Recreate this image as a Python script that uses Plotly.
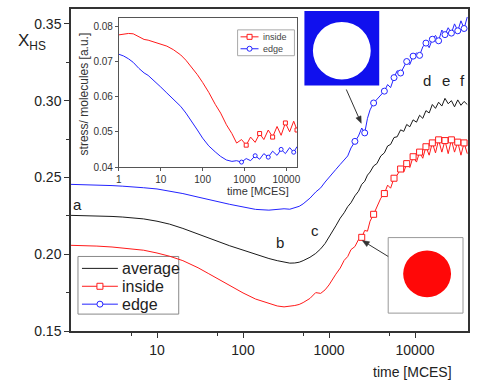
import math
import plotly.graph_objects as go

# ---------------- data ----------------
T = [1, 1.5, 2, 3, 4, 5, 7, 10, 14, 20, 30, 40, 50, 70, 100, 140, 200, 250, 300, 350,
     400, 450, 500, 600, 700, 800, 900, 1000, 1100, 1200, 1350, 1500, 1650, 1800, 2000, 2200,
     2400, 2600, 2800, 3000, 3300, 3600, 4000, 4400, 4800, 5200, 5700, 6200, 6800, 7400,
     8000, 8700, 9500, 10400, 11300, 12300, 13400, 14600, 15900, 17300, 18800, 20500,
     22300, 24300, 26500, 28800, 31400, 34200, 37200, 40500]

EDGE = [0.2455, 0.2453, 0.2451, 0.2447, 0.2443, 0.2440, 0.2433, 0.2425, 0.2412, 0.2395,
        0.2372, 0.2355, 0.2342, 0.2325, 0.2308, 0.2292, 0.2287, 0.2293, 0.2296, 0.2293,
        0.2302, 0.2312, 0.2328, 0.2365, 0.2405, 0.2432, 0.2470, 0.2498, 0.2530, 0.2552,
        0.2585, 0.2618, 0.2640, 0.2692, 0.2735, 0.2770, 0.2822, 0.2790, 0.2885, 0.2940,
        0.2985, 0.3010, 0.3040, 0.3062, 0.3105, 0.3085, 0.3150, 0.3195, 0.3180, 0.3225,
        0.3255, 0.3235, 0.3290, 0.3310, 0.3295, 0.3350, 0.3375, 0.3345, 0.3400, 0.3425,
        0.3390, 0.3460, 0.3430, 0.3475, 0.3440, 0.3500, 0.3455, 0.3520, 0.3470, 0.3545]

AVERAGE = [0.2253, 0.2252, 0.2250, 0.2246, 0.2242, 0.2238, 0.2230, 0.2215, 0.2196, 0.2168,
           0.2130, 0.2103, 0.2082, 0.2055, 0.2027, 0.1998, 0.1972, 0.1958, 0.1948, 0.1942,
           0.1943, 0.1948, 0.1958, 0.1980, 0.2005, 0.2035, 0.2070, 0.2110, 0.2150, 0.2185,
           0.2235, 0.2270, 0.2310, 0.2335, 0.2380, 0.2410, 0.2455, 0.2475, 0.2515, 0.2535,
           0.2575, 0.2590, 0.2640, 0.2660, 0.2705, 0.2715, 0.2760, 0.2765, 0.2810, 0.2800,
           0.2845, 0.2830, 0.2875, 0.2860, 0.2905, 0.2885, 0.2935, 0.2920, 0.2975, 0.2950,
           0.2990, 0.2965, 0.3015, 0.2980, 0.3000, 0.2960, 0.3005, 0.2970, 0.2995, 0.2975]

INSIDE = [0.2058, 0.2056, 0.2053, 0.2047, 0.2041, 0.2036, 0.2026, 0.2008, 0.1987, 0.1958,
          0.1912, 0.1873, 0.1843, 0.1795, 0.1748, 0.1708, 0.1678, 0.1663, 0.1657, 0.1660,
          0.1666, 0.1673, 0.1685, 0.1712, 0.1750, 0.1745, 0.1768, 0.1800, 0.1840, 0.1870,
          0.1910, 0.1960, 0.1985, 0.2030, 0.2050, 0.2095, 0.2110, 0.2155, 0.2150, 0.2215,
          0.2260, 0.2305, 0.2365, 0.2395, 0.2450, 0.2430, 0.2495, 0.2515, 0.2555, 0.2535,
          0.2590, 0.2565, 0.2635, 0.2600, 0.2665, 0.2625, 0.2700, 0.2645, 0.2725, 0.2660,
          0.2745, 0.2665, 0.2740, 0.2655, 0.2745, 0.2665, 0.2730, 0.2645, 0.2725, 0.2655]

# inset: stress per molecule
TI = [1, 1.3, 1.7, 2.2, 3, 4, 5, 7, 10, 14, 20, 30, 40, 55, 75, 100, 140, 200, 270, 370,
      500, 650, 850, 1100, 1400, 1800, 2300, 2900, 3700, 4700, 6000, 7500, 9500, 12000,
      15000, 18000]
STRESS_INSIDE = [0.0775, 0.0777, 0.0779, 0.0778, 0.0770, 0.0762, 0.0760, 0.0754, 0.0748,
                 0.0743, 0.0733, 0.0718, 0.0703, 0.0683, 0.0662, 0.0640, 0.0612, 0.0578,
                 0.0553, 0.0520, 0.0495, 0.0468, 0.0478, 0.0462, 0.0485, 0.0470, 0.0495,
                 0.0478, 0.0505, 0.0485, 0.0515, 0.0490, 0.0525, 0.0500, 0.0530, 0.0505]
STRESS_EDGE = [0.0720, 0.0715, 0.0707, 0.0697, 0.0680, 0.0667, 0.0660, 0.0645, 0.0627,
               0.0610, 0.0592, 0.0572, 0.0553, 0.0530, 0.0505, 0.0482, 0.0460, 0.0443,
               0.0430, 0.0420, 0.0416, 0.0418, 0.0414, 0.0424, 0.0418, 0.0432, 0.0422,
               0.0438, 0.0428, 0.0445, 0.0433, 0.0450, 0.0438, 0.0455, 0.0442, 0.0458]

MAIN_XTICKS = [10, 100, 1000, 10000]
MAIN_XMINOR = [5, 50, 500, 5000]
MAIN_YTICKS = [0.15, 0.20, 0.25, 0.30, 0.35]
INSET_XTICKS = [1, 10, 100, 1000, 10000]
INSET_YTICKS = [0.04, 0.05, 0.06, 0.07, 0.08]

MAIN_LEGEND = ["average", "inside", "edge"]
INSET_LEGEND = ["inside", "edge"]

# indices where the hollow symbols sit
EDGE_MARK = [34, 37, 40, 43, 46, 48, 50, 52, 54, 56, 58, 60, 62, 64, 66, 68]
INSIDE_MARK = [36, 40, 43, 46, 48, 50, 52, 54, 56, 58, 60, 62, 64, 66, 68]
IN_EDGE_MARK = [22, 25, 28, 31, 34]
IN_INSIDE_MARK = [23, 26, 29, 32, 35]

RED = "#ff1a1a"
BLUE = "#2323ff"
BLACK = "#1a1a1a"
FONT = "Liberation Sans, Arial, sans-serif"

# ---------------- geometry helpers (pixel -> paper) ----------------
W, H = 478, 388
L, R, TOP, BOT = 71, 469, 7, 331


def px(x):
    return (x - L) / (R - L)


def py(y):
    return (BOT - y) / (BOT - TOP)


fig = go.Figure()

# main curves
fig.add_trace(go.Scatter(x=T, y=EDGE, mode="lines", line=dict(color=BLUE, width=1),
                         showlegend=False, xaxis="x", yaxis="y"))
fig.add_trace(go.Scatter(x=T, y=AVERAGE, mode="lines", line=dict(color=BLACK, width=1),
                         showlegend=False, xaxis="x", yaxis="y"))
fig.add_trace(go.Scatter(x=T, y=INSIDE, mode="lines", line=dict(color=RED, width=1),
                         showlegend=False, xaxis="x", yaxis="y"))
fig.add_trace(go.Scatter(x=[T[i] for i in EDGE_MARK], y=[EDGE[i] for i in EDGE_MARK],
                         mode="markers", showlegend=False,
                         marker=dict(symbol="circle", size=6, color="white",
                                     line=dict(color=BLUE, width=1))))
fig.add_trace(go.Scatter(x=[T[i] for i in INSIDE_MARK], y=[INSIDE[i] for i in INSIDE_MARK],
                         mode="markers", showlegend=False,
                         marker=dict(symbol="square", size=6, color="white",
                                     line=dict(color=RED, width=1))))

# inset curves
fig.add_trace(go.Scatter(x=TI, y=STRESS_INSIDE, mode="lines", line=dict(color=RED, width=1),
                         showlegend=False, xaxis="x2", yaxis="y2"))
fig.add_trace(go.Scatter(x=TI, y=STRESS_EDGE, mode="lines", line=dict(color=BLUE, width=1),
                         showlegend=False, xaxis="x2", yaxis="y2"))
fig.add_trace(go.Scatter(x=[TI[i] for i in IN_INSIDE_MARK],
                         y=[STRESS_INSIDE[i] for i in IN_INSIDE_MARK],
                         mode="markers", showlegend=False, xaxis="x2", yaxis="y2",
                         marker=dict(symbol="square", size=4, color="white",
                                     line=dict(color=RED, width=1))))
fig.add_trace(go.Scatter(x=[TI[i] for i in IN_EDGE_MARK],
                         y=[STRESS_EDGE[i] for i in IN_EDGE_MARK],
                         mode="markers", showlegend=False, xaxis="x2", yaxis="y2",
                         marker=dict(symbol="circle", size=4, color="white",
                                     line=dict(color=BLUE, width=1))))


# ---- legend samples, drawn on an invisible overlay axis in paper-like units ----
def legend_sample(x0, x1, y, color, symbol, msize):
    fig.add_trace(go.Scatter(x=[px(x0), px(x1)], y=[py(y), py(y)], mode="lines",
                             line=dict(color=color, width=1), showlegend=False,
                             xaxis="x3", yaxis="y3", hoverinfo="skip", cliponaxis=False))
    if symbol:
        fig.add_trace(go.Scatter(x=[px((x0 + x1) / 2)], y=[py(y)], mode="markers",
                                 showlegend=False, xaxis="x3", yaxis="y3", hoverinfo="skip",
                                 cliponaxis=False,
                                 marker=dict(symbol=symbol, size=msize, color="white",
                                             line=dict(color=color, width=1))))


main_rows = [268, 286, 304]
main_styles = [(BLACK, None), (RED, "square"), (BLUE, "circle")]
for yrow, (c, s) in zip(main_rows, main_styles):
    legend_sample(82, 118, yrow, c, s, 6)

inset_rows = [35, 47]
inset_styles = [(RED, "square"), (BLUE, "circle")]
for yrow, (c, s) in zip(inset_rows, inset_styles):
    legend_sample(241, 259, yrow, c, s, 5)

axis_font = dict(family=FONT, size=14, color="#222")
inset_font = dict(family=FONT, size=10, color="#333")

fig.update_layout(
    width=W, height=H,
    margin=dict(l=L, r=W - R, t=TOP, b=H - BOT),
    paper_bgcolor="white", plot_bgcolor="rgba(0,0,0,0)",
    font=axis_font, showlegend=False,
    xaxis=dict(type="log", range=[0, 4.616], domain=[0, 1], anchor="y",
               tickvals=MAIN_XTICKS, ticktext=[str(v) for v in MAIN_XTICKS],
               showgrid=False, zeroline=False, showline=True, linecolor="#333",
               linewidth=1.5, mirror=True, ticks="outside", ticklen=5, tickwidth=1.2,
               tickcolor="#333", tickfont=axis_font,
               minor=dict(tickvals=MAIN_XMINOR, ticks="outside", ticklen=3,
                          tickcolor="#333", tickwidth=1)),
    yaxis=dict(range=[0.15, 0.3597], domain=[0, 1], anchor="x",
               tickvals=MAIN_YTICKS, ticktext=["%.2f" % v for v in MAIN_YTICKS],
               showgrid=False, zeroline=False, showline=True, linecolor="#333",
               linewidth=1.5, mirror=True, ticks="outside", ticklen=5, tickwidth=1.2,
               tickcolor="#333", tickfont=axis_font,
               minor=dict(dtick=0.025, tick0=0.15, ticks="outside", ticklen=3,
                          tickcolor="#333", tickwidth=1)),
    xaxis2=dict(type="log", range=[0, 4.265], domain=[px(119), px(298)], anchor="y2",
                tickvals=INSET_XTICKS, ticktext=[str(v) for v in INSET_XTICKS],
                showgrid=False, zeroline=False, showline=True, linecolor="#555",
                linewidth=1, mirror=True, ticks="outside", ticklen=3, tickcolor="#555",
                tickfont=inset_font),
    yaxis2=dict(range=[0.04, 0.0823], domain=[py(166), py(16)], anchor="x2",
                tickvals=INSET_YTICKS, ticktext=["%.2f" % v for v in INSET_YTICKS],
                showgrid=False, zeroline=False, showline=True, linecolor="#555",
                linewidth=1, mirror=True, ticks="outside", ticklen=3, tickcolor="#555",
                tickfont=inset_font),
    xaxis3=dict(overlaying="x", range=[0, 1], visible=False, anchor="y3", fixedrange=True),
    yaxis3=dict(overlaying="y", range=[0, 1], visible=False, anchor="x3", fixedrange=True),
)


def arrow_shapes(tail, head, color="#333"):
    (tx, ty), (hx, hy) = tail, head
    d = math.hypot(hx - tx, hy - ty)
    ux, uy = (hx - tx) / d, (hy - ty) / d
    nx, ny = -uy, ux
    bx, by = hx - 7 * ux, hy - 7 * uy
    p1 = (bx + 2.8 * nx, by + 2.8 * ny)
    p2 = (bx - 2.8 * nx, by - 2.8 * ny)
    path = "M %f,%f L %f,%f L %f,%f Z" % (px(hx), py(hy), px(p1[0]), py(p1[1]),
                                           px(p2[0]), py(p2[1]))
    return [
        dict(type="line", xref="paper", yref="paper", x0=px(tx), y0=py(ty), x1=px(bx),
             y1=py(by), line=dict(color=color, width=1), layer="above"),
        dict(type="path", xref="paper", yref="paper", path=path, fillcolor=color,
             line=dict(color=color, width=0.5), layer="above"),
    ]


shapes = [
    # main legend box
    dict(type="rect", xref="paper", yref="paper", x0=px(78), x1=px(179), y0=py(314),
         y1=py(256), fillcolor="white", line=dict(color="#888", width=1), layer="below"),
    # inset legend box
    dict(type="rect", xref="paper", yref="paper", x0=px(238), x1=px(295), y0=py(54),
         y1=py(28), fillcolor="white", line=dict(color="#aaa", width=1), layer="below"),
    # blue square picture with white disc
    dict(type="rect", xref="paper", yref="paper", x0=px(305), x1=px(380), y0=py(84), y1=py(9),
         fillcolor="#1010ee", line=dict(width=0), layer="above"),
    dict(type="circle", xref="paper", yref="paper", x0=px(313.5), x1=px(371.5), y0=py(78),
         y1=py(20), fillcolor="white", line=dict(width=0), layer="above"),
    # red disc picture
    dict(type="rect", xref="paper", yref="paper", x0=px(389), x1=px(464), y0=py(313), y1=py(237),
         fillcolor="white", line=dict(color="#999", width=1), layer="above"),
    dict(type="circle", xref="paper", yref="paper", x0=px(404), x1=px(452), y0=py(297),
         y1=py(250), fillcolor="#ff0808", line=dict(width=0), layer="above"),
]
shapes += arrow_shapes((347, 88), (362, 122))
shapes += arrow_shapes((389, 256), (363, 240))
fig.update_layout(shapes=shapes)


def label(x, y, text, size, color="#222", xanchor="center", **kw):
    return dict(x=px(x), y=py(y), xref="paper", yref="paper", text=text, showarrow=False,
                xanchor=xanchor, yanchor="middle",
                font=dict(family=FONT, size=size, color=color), **kw)


annotations = [
    label(78, 204, "a", 15),
    label(281, 242, "b", 15),
    label(316, 230, "c", 15),
    label(428, 79, "d", 15),
    label(447, 79, "e", 15),
    label(463, 79, "f", 15),
    label(455, 372, "time [MCES]", 14, xanchor="right"),
    label(16, 40, "X<sub>HS</sub>", 17, xanchor="left"),
    label(258, 190, "time [MCES]", 11, color="#333"),
    label(85, 92, "stress/ molecules [a.u.]", 12, color="#333", textangle=-90),
]
for yrow, name in zip(main_rows, MAIN_LEGEND):
    annotations.append(label(120, yrow, name, 16, xanchor="left"))
for yrow, name in zip(inset_rows, INSET_LEGEND):
    annotations.append(label(261, yrow, name, 9, color="#444", xanchor="left"))
fig.update_layout(annotations=annotations)

fig.write_html("out.html")
